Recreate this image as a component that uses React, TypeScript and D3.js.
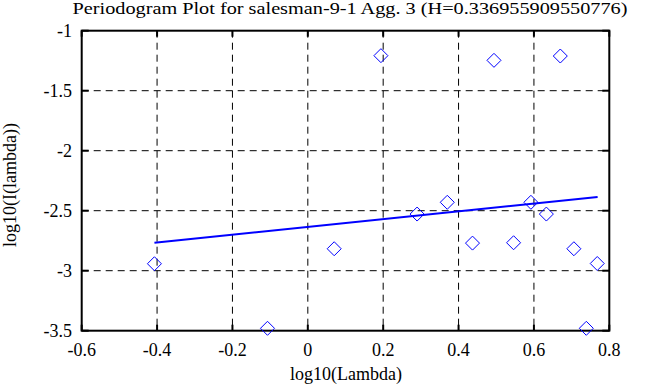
import * as d3 from "d3";
import { useEffect } from "react";

// log10 of the Fourier frequencies and log10 of the periodogram values
const logLambda = [-0.407, -0.107, 0.070, 0.194, 0.290, 0.370, 0.437, 0.494, 0.546, 0.592, 0.633, 0.670, 0.706, 0.739, 0.768];
const logI = [-2.942, -3.48, -2.817, -1.208, -2.528, -2.43, -2.77, -1.247, -2.767, -2.43, -2.528, -1.211, -2.817, -3.48, -2.94];

// fitted regression line end points
const fitX = [-0.407, 0.769];
const fitY = [-2.767, -2.386];

const xTicks = [-0.6, -0.4, -0.2, 0, 0.2, 0.4, 0.6, 0.8];
const yTicks = [-1, -1.5, -2, -2.5, -3, -3.5];

const title = "Periodogram Plot for salesman-9-1 Agg. 3 (H=0.336955909550776)";
const xLabel = "log10(Lambda)";
const yLabel = "log10(I(lambda))";

export default function App() {
  const width = 663;
  const height = 387;
  const marginLeft = 81.7;
  const marginRight = 53.7;
  const marginTop = 30.7;
  const marginBottom = 56.3;

  useEffect(() => {
    document.body.style.margin = "0";
  }, []);

  const x = d3.scaleLinear([-0.6, 0.8], [marginLeft, width - marginRight]);
  const y = d3.scaleLinear([-3.5, -1], [height - marginBottom, marginTop]);

  const line = d3.line<number>((d) => x(d), (_, i) => y(fitY[i]));
  const diamond = (cx: number, cy: number, r: number) =>
    `M${cx},${cy - r}L${cx + r},${cy}L${cx},${cy + r}L${cx - r},${cy}Z`;

  const font = "Liberation Serif, serif";
  const x0 = x(-0.6), x1 = x(0.8), y0 = y(-3.5), y1 = y(-1);

  return (
    <svg width={width} height={height} style={{ display: "block", background: "white", fontFamily: font }}>
      {/* grid */}
      <g stroke="black" strokeWidth={1} strokeDasharray="7,5">
        {xTicks.slice(1, -1).map((t) => (
          <line key={"gx" + t} x1={x(t)} x2={x(t)} y1={y1} y2={y0} />
        ))}
        {yTicks.slice(1, -1).map((t) => (
          <line key={"gy" + t} x1={x0} x2={x1} y1={y(t)} y2={y(t)} />
        ))}
      </g>
      {/* ticks on all four sides */}
      <g stroke="black" strokeWidth={2}>
        {xTicks.map((t) => (
          <g key={"tx" + t}>
            <line x1={x(t)} x2={x(t)} y1={y0} y2={y0 - 6} />
            <line x1={x(t)} x2={x(t)} y1={y1} y2={y1 + 6} />
          </g>
        ))}
        {yTicks.map((t) => (
          <g key={"ty" + t}>
            <line x1={x0} x2={x0 + 7} y1={y(t)} y2={y(t)} />
            <line x1={x1} x2={x1 - 7} y1={y(t)} y2={y(t)} />
          </g>
        ))}
      </g>
      <rect x={x0} y={y1} width={x1 - x0} height={y0 - y1} fill="none" stroke="black" strokeWidth={2} />
      {/* fit line */}
      <path d={line(fitX) ?? ""} fill="none" stroke="#0000ff" strokeWidth={2} />
      {/* points */}
      <g fill="none" stroke="#0000ff" strokeWidth={1}>
        {logLambda.map((v, i) => (
          <path key={i} d={diamond(x(v), y(logI[i]), 7)} />
        ))}
      </g>
      {/* tick labels */}
      <g fontSize={18} fill="black">
        {xTicks.map((t) => (
          <text key={"lx" + t} x={x(t)} y={356} textAnchor="middle">{String(t)}</text>
        ))}
        {yTicks.map((t) => (
          <text key={"ly" + t} x={72} y={y(t) + 6} textAnchor="end">{String(t)}</text>
        ))}
      </g>
      <text x={350} y={14} fontSize={16} textAnchor="middle" textLength={555} lengthAdjust="spacingAndGlyphs">{title}</text>
      <text x={346} y={380} fontSize={18} textAnchor="middle">{xLabel}</text>
      <text transform={`translate(16,185) rotate(-90)`} fontSize={18} textAnchor="middle">{yLabel}</text>
    </svg>
  );
}
